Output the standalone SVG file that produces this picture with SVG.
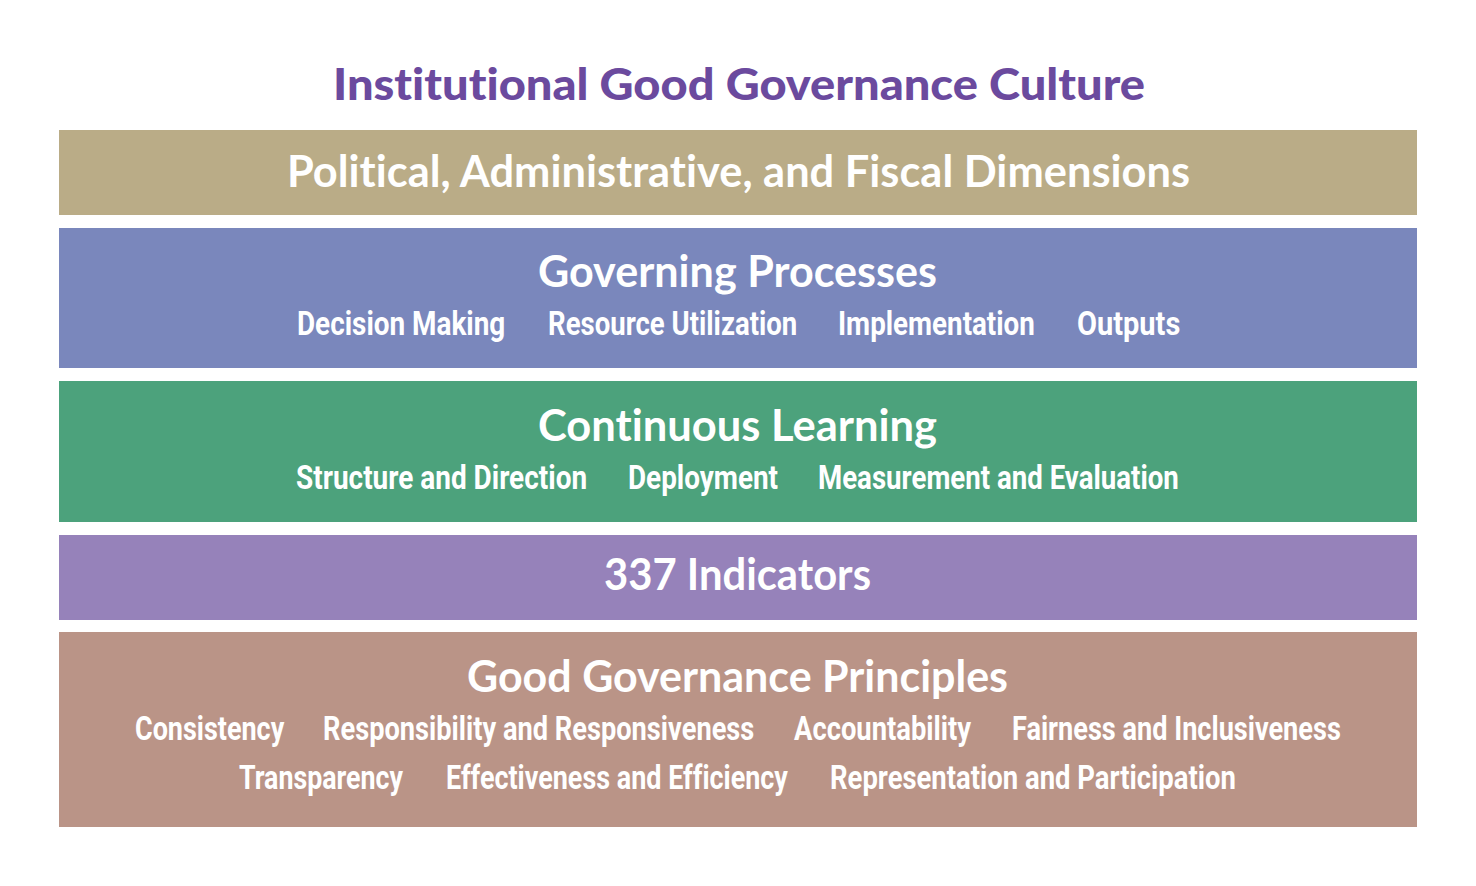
<svg xmlns="http://www.w3.org/2000/svg" width="1476" height="886" viewBox="0 0 1476 886">
<style>
text{font-variant-ligatures:none;font-feature-settings:"liga" 0,"clig" 0,"dlig" 0}
.h{font-family:"Lato","Open Sans","Liberation Sans",sans-serif;font-weight:700;fill:#fff;font-size:44px}
.s{font-family:"Roboto","Liberation Sans",sans-serif;font-weight:700;fill:#fff;font-size:33px}
.t{font-family:"Lato","Open Sans","Liberation Sans",sans-serif;font-weight:900;fill:#6B4A9E;font-size:44px}
</style>
<rect width="1476" height="886" fill="#fff"/>
<g id="title"><text class="t" x="333" y="100" textLength="812" lengthAdjust="spacingAndGlyphs">Institutional Good Governance Culture</text></g>
<g id="dimensions">
<rect x="59" y="130" width="1358" height="85" fill="#BAAC87"/>
<text class="h" x="287" y="187" textLength="903" lengthAdjust="spacingAndGlyphs">Political, Administrative, and Fiscal Dimensions</text>
</g>
<g id="processes">
<rect x="59" y="228" width="1358" height="140" fill="#7A87BC"/>
<text class="h" x="538" y="287" textLength="399" lengthAdjust="spacingAndGlyphs">Governing Processes</text>
<text class="s" transform="translate(297,335) scale(0.82,1)" textLength="254" lengthAdjust="spacingAndGlyphs">Decision Making</text>
<text class="s" transform="translate(548,335) scale(0.82,1)" textLength="304" lengthAdjust="spacingAndGlyphs">Resource Utilization</text>
<text class="s" transform="translate(838,335) scale(0.82,1)" textLength="240" lengthAdjust="spacingAndGlyphs">Implementation</text>
<text class="s" transform="translate(1077,335) scale(0.82,1)" textLength="126" lengthAdjust="spacingAndGlyphs">Outputs</text>
</g>
<g id="learning">
<rect x="59" y="381" width="1358" height="141" fill="#4CA27C"/>
<text class="h" x="538" y="441" textLength="399" lengthAdjust="spacingAndGlyphs">Continuous Learning</text>
<text class="s" transform="translate(296,489) scale(0.82,1)" textLength="355" lengthAdjust="spacingAndGlyphs">Structure and Direction</text>
<text class="s" transform="translate(628,489) scale(0.82,1)" textLength="183" lengthAdjust="spacingAndGlyphs">Deployment</text>
<text class="s" transform="translate(818,489) scale(0.82,1)" textLength="440" lengthAdjust="spacingAndGlyphs">Measurement and Evaluation</text>
</g>
<g id="indicators">
<rect x="59" y="535" width="1358" height="85" fill="#9682BA"/>
<text class="h" x="604" y="590" textLength="267" lengthAdjust="spacingAndGlyphs">337 Indicators</text>
</g>
<g id="principles">
<rect x="59" y="632" width="1358" height="195" fill="#BA9487"/>
<text class="h" x="467" y="692" textLength="541" lengthAdjust="spacingAndGlyphs">Good Governance Principles</text>
<text class="s" transform="translate(135,740) scale(0.82,1)" textLength="182" lengthAdjust="spacingAndGlyphs">Consistency</text>
<text class="s" transform="translate(323,740) scale(0.82,1)" textLength="526" lengthAdjust="spacingAndGlyphs">Responsibility and Responsiveness</text>
<text class="s" transform="translate(794,740) scale(0.82,1)" textLength="216" lengthAdjust="spacingAndGlyphs">Accountability</text>
<text class="s" transform="translate(1012,740) scale(0.82,1)" textLength="401" lengthAdjust="spacingAndGlyphs">Fairness and Inclusiveness</text>
<text class="s" transform="translate(239,789) scale(0.82,1)" textLength="200" lengthAdjust="spacingAndGlyphs">Transparency</text>
<text class="s" transform="translate(446,789) scale(0.82,1)" textLength="417" lengthAdjust="spacingAndGlyphs">Effectiveness and Efficiency</text>
<text class="s" transform="translate(830,789) scale(0.82,1)" textLength="495" lengthAdjust="spacingAndGlyphs">Representation and Participation</text>
</g>
<g id="connectors"/>
</svg>
